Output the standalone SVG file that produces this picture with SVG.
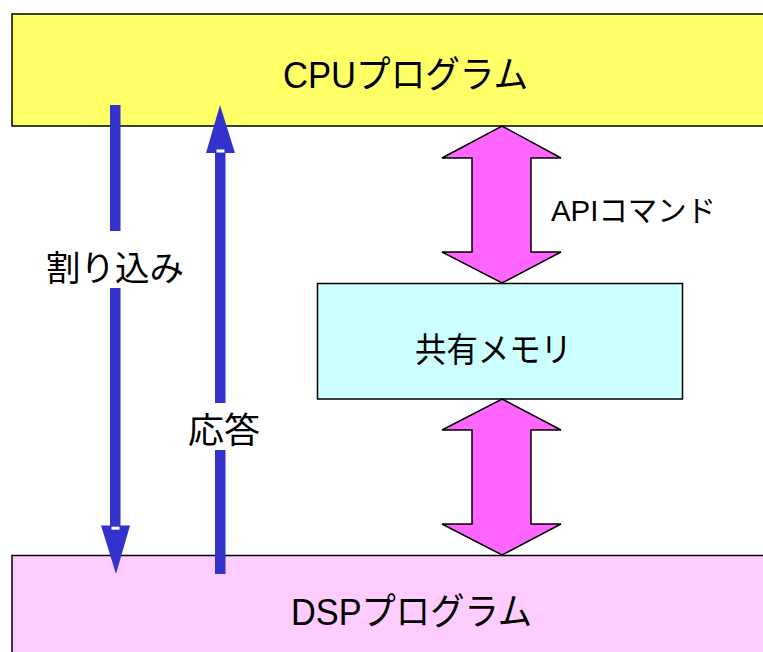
<svg xmlns="http://www.w3.org/2000/svg" width="763" height="652" viewBox="0 0 763 652">
<style>
.box{stroke:#000;stroke-width:1.5}
.lbl{font-family:"Liberation Sans","Noto Sans CJK JP",sans-serif;fill:#000}
.blue{fill:#3333CC}
.dbl{fill:#FF66FF;stroke:#000;stroke-width:1.5;stroke-linejoin:miter}
.notch{fill:#fff}
</style>
<rect width="763" height="652" fill="#fff"/>
<g id="cpu">
<rect class="box" x="12" y="14" width="760" height="112" fill="#FFFF66"/>
<text class="lbl" x="283" y="88" font-size="37" textLength="245" lengthAdjust="spacingAndGlyphs">CPUプログラム</text>
</g>
<g id="dsp">
<rect class="box" x="12" y="555.5" width="760" height="110" fill="#FFCCFF"/>
<text class="lbl" x="291" y="625" font-size="37" textLength="241" lengthAdjust="spacingAndGlyphs">DSPプログラム</text>
</g>
<g id="shm">
<rect class="box" x="317.5" y="283.5" width="365" height="115.5" fill="#CCFFFF"/>
<text class="lbl" x="415" y="362" font-size="34" textLength="157" lengthAdjust="spacingAndGlyphs">共有メモリ</text>
</g>
<g id="connectors">
<g id="interrupt">
<rect class="blue" x="110" y="105" width="10.5" height="126"/>
<rect class="blue" x="110" y="288" width="10.5" height="239"/>
<polygon class="blue" points="101,525.5 130,525.5 116,574"/>
<rect class="notch" x="111.5" y="526.7" width="8" height="3"/>
<text class="lbl" x="46" y="281" font-size="35" textLength="138" lengthAdjust="spacingAndGlyphs">割り込み</text>
</g>
<g id="response">
<rect class="blue" x="215" y="152" width="10.5" height="251"/>
<rect class="blue" x="215" y="450" width="10.5" height="124"/>
<polygon class="blue" points="220,105 235,153 206,153"/>
<rect class="notch" x="216.5" y="149.5" width="8" height="3"/>
<text class="lbl" x="188" y="443" font-size="35" textLength="72" lengthAdjust="spacingAndGlyphs">応答</text>
</g>
<g id="api">
<polygon class="dbl" points="502,126 561,158 531,158 531,252 561,252 502,283 442,252 472,252 472,158 442,158"/>
<text class="lbl" x="551" y="221" font-size="30" textLength="165" lengthAdjust="spacingAndGlyphs">APIコマンド</text>
</g>
<g id="mem-dsp">
<polygon class="dbl" points="502,399 561,430 531,430 531,524 561,524 502,555 442,524 472,524 472,430 442,430"/>
</g>
</g>
</svg>
